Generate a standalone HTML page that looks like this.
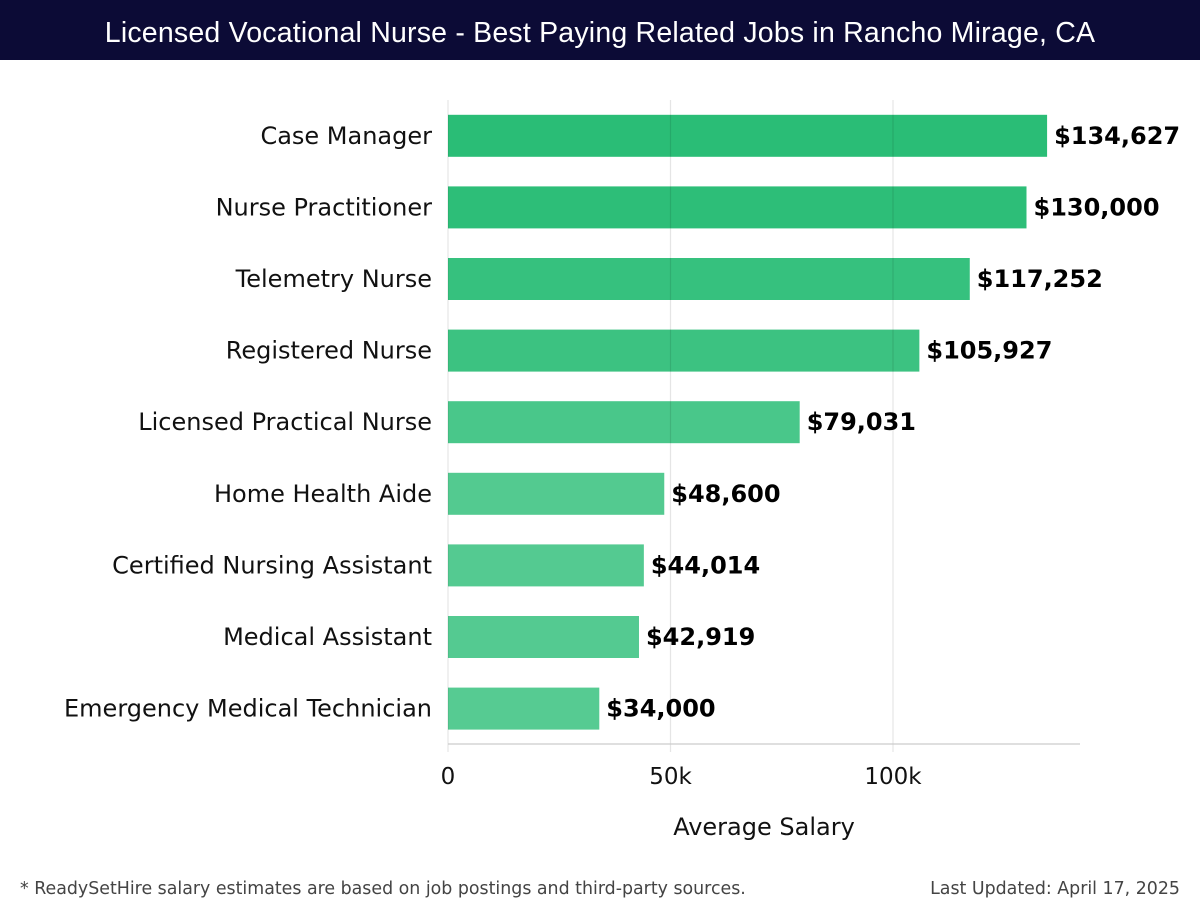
<!DOCTYPE html>
<html><head><meta charset="utf-8"><style>
body{margin:0;width:1200px;height:920px;background:#fff;overflow:hidden;font-family:"DejaVu Sans","Liberation Sans",sans-serif}
#title{position:absolute;left:0;top:0;width:1200px;height:60px;background:#0c0b36;color:#fff;font:300 28.5px "Liberation Sans",sans-serif;text-align:center;line-height:66px;letter-spacing:0.2px}
.foot{position:absolute;top:879px;font:17.4px "DejaVu Sans",sans-serif;color:#444}
</style></head><body>
<div id="title">Licensed Vocational Nurse - Best Paying Related Jobs in Rancho Mirage, CA</div>
<svg id="chart" width="1200" height="920" style="position:absolute;left:0;top:0"></svg>
<div class="foot" style="left:20px">* ReadySetHire salary estimates are based on job postings and third-party sources.</div>
<div class="foot" style="right:20px">Last Updated: April 17, 2025</div>
<script>
const categories=["Case Manager","Nurse Practitioner","Telemetry Nurse","Registered Nurse","Licensed Practical Nurse","Home Health Aide","Certified Nursing Assistant","Medical Assistant","Emergency Medical Technician"];
const values=[134627,130000,117252,105927,79031,48600,44014,42919,34000];
const tickValues=[0,50000,100000];
const tickLabels=["0","50k","100k"];
const NS="http://www.w3.org/2000/svg";
const svg=document.getElementById('chart');
const x0=448,pxPer=(893-448)/100000,top0=100,step=71.6,bh=42;
const x=v=>x0+v*pxPer;
const yc=i=>top0+step*(i+0.5);
function mk(t,a){const e=document.createElementNS(NS,t);for(const k in a)e.setAttribute(k,a[k]);svg.appendChild(e);return e;}
const maxV=Math.max(...values);
values.forEach((v,i)=>{
  const r=mk('rect',{x:x0,y:yc(i)-bh/2,width:x(v)-x0,height:bh,fill:'rgb(42,189,118)','fill-opacity':(0.78+0.22*Math.pow(v/maxV,2)).toFixed(3)});
  
  
  const l=mk('text',{x:x(v)+7,y:yc(i)+8,'font-size':24,'font-weight':'bold',fill:'#000'});
  l.textContent='$'+v.toLocaleString('en-US');
  
  
  const c=mk('text',{x:432,y:yc(i)+8,'font-size':24,'text-anchor':'end',fill:'#111'});
  c.textContent=categories[i];
  
  
});
tickValues.forEach((t,i)=>{
  const g=mk('line',{x1:x(t),x2:x(t),y1:top0,y2:752,stroke:'#000','stroke-opacity':0.1,'stroke-width':1.2});
  
  
  const tl=mk('text',{x:x(t),y:784,'font-size':23,'text-anchor':'middle',fill:'#111'});
  tl.textContent=tickLabels[i];
  
  
});
const ax=mk('line',{x1:x0,x2:1080,y1:744,y2:744,stroke:'#ccc','stroke-width':1.2});


const at=mk('text',{x:764,y:835,'font-size':24,'text-anchor':'middle',fill:'#111'});
at.textContent='Average Salary';


</script>
</body></html>
